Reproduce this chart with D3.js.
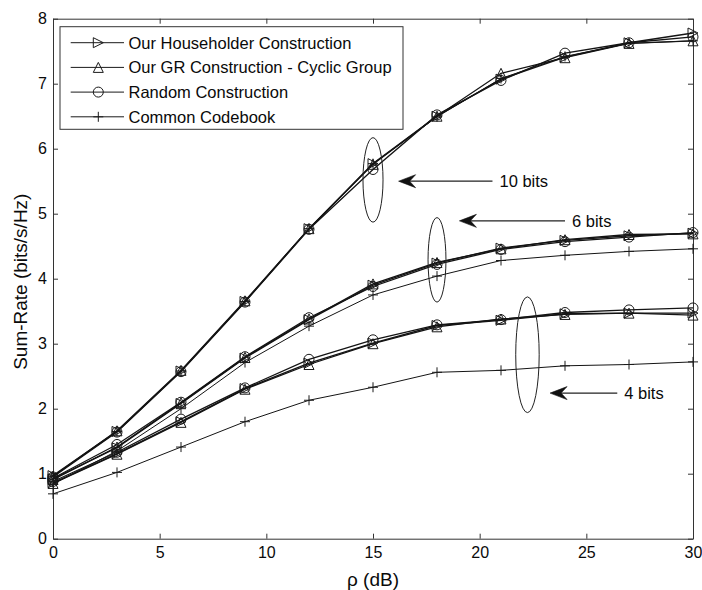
<!DOCTYPE html>
<html>
<head>
<meta charset="utf-8">
<script src="https://cdn.jsdelivr.net/npm/d3@7"></script>
<style>
  html, body { margin: 0; padding: 0; background: #fff; }
  svg { display: block; font-family: "Liberation Sans", Arial, sans-serif; }
</style>
</head>
<body>
<svg id="chart" width="702" height="590"></svg>
<script>
// SNR grid (dB)
const snr = [0, 3, 6, 9, 12, 15, 18, 21, 24, 27, 30];

// Sum-rate curves, 10-bit feedback
const hh10   = [0.97, 1.65, 2.58, 3.65, 4.77, 5.77, 6.50, 7.07, 7.41, 7.63, 7.78];
const gr10   = [0.96, 1.66, 2.59, 3.66, 4.77, 5.76, 6.50, 7.16, 7.40, 7.62, 7.66];
const rand10 = [0.95, 1.64, 2.57, 3.64, 4.76, 5.68, 6.52, 7.05, 7.47, 7.63, 7.72];
const cc10   = [0.96, 1.65, 2.58, 3.65, 4.77, 5.77, 6.49, 7.08, 7.42, 7.62, 7.66];

// 6-bit feedback
const hh6   = [0.92, 1.40, 2.08, 2.78, 3.37, 3.90, 4.24, 4.47, 4.59, 4.66, 4.70];
const gr6   = [0.91, 1.41, 2.09, 2.79, 3.38, 3.92, 4.25, 4.46, 4.60, 4.68, 4.69];
const rand6 = [0.93, 1.45, 2.10, 2.80, 3.40, 3.88, 4.22, 4.45, 4.57, 4.64, 4.71];
const cc6   = [0.84, 1.35, 2.00, 2.71, 3.27, 3.75, 4.04, 4.28, 4.36, 4.42, 4.46];

// 4-bit feedback
const hh4   = [0.86, 1.31, 1.80, 2.31, 2.70, 3.01, 3.28, 3.36, 3.46, 3.47, 3.47];
const gr4   = [0.85, 1.30, 1.79, 2.30, 2.68, 3.00, 3.26, 3.38, 3.45, 3.47, 3.44];
const rand4 = [0.88, 1.33, 1.84, 2.32, 2.76, 3.06, 3.29, 3.37, 3.48, 3.52, 3.55];
const cc4   = [0.69, 1.02, 1.41, 1.80, 2.13, 2.33, 2.56, 2.59, 2.66, 2.68, 2.72];

const xTicks = [0, 5, 10, 15, 20, 25, 30];
const yTicks = [0, 1, 2, 3, 4, 5, 6, 7, 8];

const legendNames = [
  "Our Householder Construction",
  "Our GR Construction - Cyclic Group",
  "Random Construction",
  "Common Codebook"
];
const markerKinds = ["triRight", "triUp", "circle", "plus"];

// Ellipse groupings [cx, cy, rx, ry] in data units, and arrow callouts
const groupEllipses = [
  [15.0, 5.52, 0.47, 0.65],
  [18.0, 4.29, 0.42, 0.65],
  [22.24, 2.83, 0.55, 0.89]
];
const callouts = [
  { label: "10 bits", tip: [16.2, 5.50], tail: [20.6, 5.50] },
  { label: "6 bits",  tip: [19.05, 4.89], tail: [24.0, 4.89] },
  { label: "4 bits",  tip: [23.3, 2.24], tail: [26.45, 2.24] }
];

const svg = d3.select("#chart");
const W = 702, H = 590;
svg.append("rect").attr("width", W).attr("height", H).attr("fill", "#fff");

const x = d3.scaleLinear().domain([0, 30]).range([53, 693]);
const y = d3.scaleLinear().domain([0, 8]).range([538.7, 18.7]);

const axisColor = "#333";
const textColor = "#0a0a0a";

// Frame and axes (ticks inward, box on)
const gx = svg.append("g").attr("transform", `translate(0,${y(0)})`)
  .call(d3.axisBottom(x).tickValues(xTicks).tickSize(-5).tickSizeOuter(0).tickPadding(8));
const gxTop = svg.append("g").attr("transform", `translate(0,${y(8)})`)
  .call(d3.axisTop(x).tickValues(xTicks).tickSize(-5).tickSizeOuter(0).tickFormat(""));
const gy = svg.append("g").attr("transform", `translate(${x(0)},0)`)
  .call(d3.axisLeft(y).tickValues(yTicks).tickSize(-5).tickSizeOuter(0).tickPadding(6));
const gyRight = svg.append("g").attr("transform", `translate(${x(30)},0)`)
  .call(d3.axisRight(y).tickValues(yTicks).tickSize(-5).tickSizeOuter(0).tickFormat(""));

[gx, gxTop, gy, gyRight].forEach(g => {
  g.selectAll("path.domain").attr("stroke", axisColor).attr("stroke-width", 1);
  g.selectAll(".tick line").attr("stroke", axisColor).attr("stroke-width", 1);
  g.selectAll(".tick text").attr("fill", textColor).style("font-size", "16px")
    .style("font-family", "'Liberation Sans', Arial, sans-serif");
});

// Axis titles
svg.append("text")
  .attr("x", (x(0) + x(30)) / 2).attr("y", 586)
  .attr("text-anchor", "middle").attr("fill", textColor)
  .style("font-size", "19px").text("ρ (dB)");
svg.append("text")
  .attr("transform", `translate(27,${(y(0) + y(8)) / 2 + 3}) rotate(-90)`)
  .attr("text-anchor", "middle").attr("fill", textColor)
  .style("font-size", "19px").text("Sum-Rate (bits/s/Hz)");

// Marker drawing
const markerSize = 5;
function drawMarker(g, kind, cx, cy) {
  const s = markerSize;
  const st = "#1a1a1a";
  if (kind === "triRight") {
    g.append("path").attr("d", `M${cx - s},${cy - s}L${cx + s},${cy}L${cx - s},${cy + s}Z`)
      .attr("fill", "none").attr("stroke", st).attr("stroke-width", 1);
  } else if (kind === "triUp") {
    g.append("path").attr("d", `M${cx},${cy - s}L${cx + s},${cy + s}L${cx - s},${cy + s}Z`)
      .attr("fill", "none").attr("stroke", st).attr("stroke-width", 1);
  } else if (kind === "circle") {
    g.append("circle").attr("cx", cx).attr("cy", cy).attr("r", s)
      .attr("fill", "none").attr("stroke", st).attr("stroke-width", 1);
  } else {
    g.append("path").attr("d", `M${cx - s},${cy}H${cx + s}M${cx},${cy - s}V${cy + s}`)
      .attr("fill", "none").attr("stroke", st).attr("stroke-width", 1);
  }
}

const series = [
  { vals: cc10, kind: "plus", w: 1.0 },
  { vals: cc6, kind: "plus", w: 1.0 },
  { vals: cc4, kind: "plus", w: 1.0 },
  { vals: rand10, kind: "circle", w: 1.3 },
  { vals: rand6, kind: "circle", w: 1.3 },
  { vals: rand4, kind: "circle", w: 1.3 },
  { vals: gr10, kind: "triUp", w: 1.3 },
  { vals: gr6, kind: "triUp", w: 1.3 },
  { vals: gr4, kind: "triUp", w: 1.3 },
  { vals: hh10, kind: "triRight", w: 1.4 },
  { vals: hh6, kind: "triRight", w: 1.4 },
  { vals: hh4, kind: "triRight", w: 1.4 }
];

const line = d3.line().x((d, i) => x(snr[i])).y(d => y(d));
const plot = svg.append("g");
series.forEach(s => {
  plot.append("path").datum(s.vals).attr("d", line)
    .attr("fill", "none").attr("stroke", "#141414").attr("stroke-width", s.w);
  const mg = plot.append("g");
  s.vals.forEach((v, i) => drawMarker(mg, s.kind, x(snr[i]), y(v)));
});

// Group ellipses
const ann = svg.append("g");
groupEllipses.forEach(([cx, cy, rx, ry]) => {
  ann.append("ellipse")
    .attr("cx", x(cx)).attr("cy", y(cy))
    .attr("rx", x(cx + rx) - x(cx)).attr("ry", y(cy) - y(cy + ry))
    .attr("fill", "none").attr("stroke", "#222").attr("stroke-width", 1);
});

// Arrow callouts
callouts.forEach(c => {
  const tx = x(c.tip[0]), ty = y(c.tip[1]);
  const ex = x(c.tail[0]), ey = y(c.tail[1]);
  ann.append("line").attr("x1", tx + 6).attr("y1", ty).attr("x2", ex).attr("y2", ey)
    .attr("stroke", "#222").attr("stroke-width", 1.2);
  ann.append("path")
    .attr("d", `M${tx},${ty}L${tx + 17},${ty - 6.5}L${tx + 11},${ty}L${tx + 17},${ty + 6.5}Z`)
    .attr("fill", "#111").attr("stroke", "#111").attr("stroke-width", 0.6);
  ann.append("text")
    .attr("x", ex + 7).attr("y", ey).attr("dy", "0.35em")
    .attr("fill", textColor).style("font-size", "16.5px").text(c.label);
});

// Legend
const lg = svg.append("g");
lg.append("rect").attr("x", 60).attr("y", 26.7).attr("width", 343).attr("height", 102.6)
  .attr("fill", "#fff").attr("stroke", "#333").attr("stroke-width", 1);
legendNames.forEach((name, i) => {
  const ly = 42.7 + i * 24.7;
  lg.append("line").attr("x1", 70.7).attr("x2", 124).attr("y1", ly).attr("y2", ly)
    .attr("stroke", "#1a1a1a").attr("stroke-width", 1);
  drawMarker(lg, markerKinds[i], 98.3, ly);
  lg.append("text").attr("x", 128.5).attr("y", ly).attr("dy", "0.36em")
    .attr("fill", textColor).style("font-size", "16.5px").text(name);
});
</script>
</body>
</html>
